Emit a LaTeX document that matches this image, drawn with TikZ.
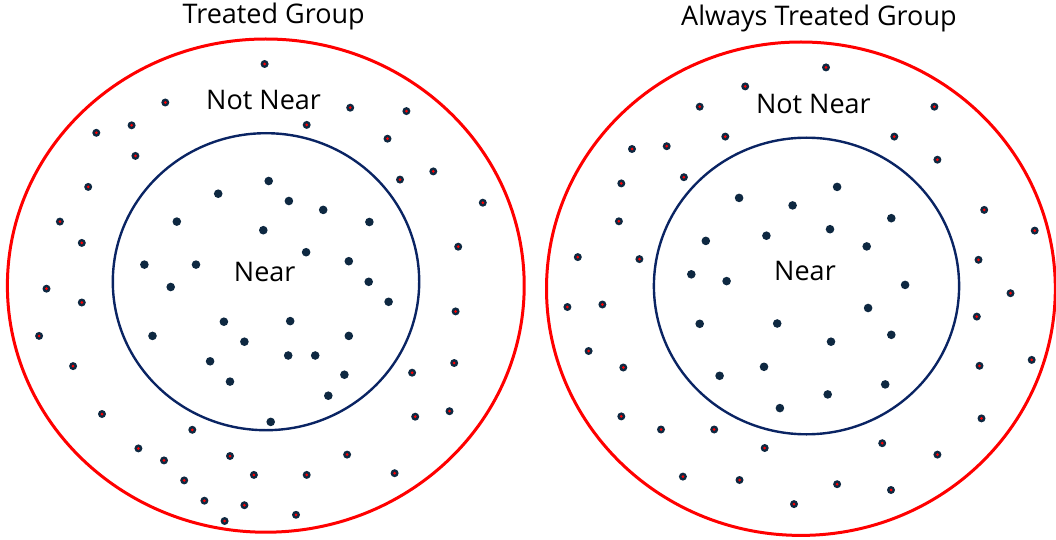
\documentclass[tikz,border=0pt]{standalone}
\usepackage{fontspec}
\setmainfont{Open Sans}
\definecolor{ringred}{HTML}{FF0000}
\definecolor{ringblue}{HTML}{0A2463}
\definecolor{dotnavy}{HTML}{0E2841}
\definecolor{dotred}{HTML}{FF0000}
\tikzset{
  outerring/.style={draw=ringred, line width=3pt},
  innerring/.style={draw=ringblue, line width=2.4pt},
  label/.style={inner sep=0pt, font=\fontsize{27}{32}\selectfont, text=black},
}
\newcommand{\outerdots}[1]{%
  \foreach \px/\py in {#1}{%
    \fill[dotnavy] (\px,\py) circle (4.0);
    \fill[dotred] (\px,\py) circle (1.5);
  }}
\newcommand{\innerdots}[1]{%
  \foreach \px/\py in {#1}{%
    \fill[dotnavy] (\px,\py) circle (4.3);
  }}
\begin{document}
\begin{tikzpicture}[x=1pt, y=-1pt]
\useasboundingbox (0,0) rectangle (1056,540);
% ---------------- Left group ----------------
\draw[outerring] (265.8,285.6) ellipse (258.4 and 246.6);
\draw[innerring] (266,281.7) ellipse (153.2 and 148.5);
\node[label] (titleL) at (273.7,16) {Treated Group};
\node[label] (notnearL) at (263.6,99.6) {Not Near};
\node[label] (nearL) at (264.7,271.8) {Near};
\outerdots{264.6/64.0, 165.3/102.5, 350.2/107.7, 406.4/111.1, 131.6/125.3, 96.3/132.8,
  306.7/124.9, 387.5/138.7, 135.4/155.9, 400.0/179.6, 433.3/171.4, 88.2/186.9,
  482.8/202.7, 59.9/221.6, 81.8/242.9, 458.2/246.7, 46.5/288.7, 81.8/302.5,
  455.6/311.4, 39.1/335.9, 73.1/366.1, 454.2/363.0, 412.1/372.7, 102.0/414.0,
  415.2/416.7, 449.5/411.2, 192.3/429.8, 138.4/448.4, 164.0/460.4, 230.0/456.0,
  347.1/454.6, 184.2/480.4, 253.9/474.9, 306.7/474.9, 394.6/473.2, 204.4/500.7,
  244.4/505.2, 224.6/521.0, 296.0/514.8}
\innerdots{268.7/181.0, 218.2/193.7, 288.9/201.0, 323.2/209.9, 176.8/221.6, 369.4/222.0,
  263.3/230.2, 306.1/252.2, 144.4/264.6, 196.0/264.6, 348.8/261.2, 170.7/287.0,
  368.7/281.8, 388.6/301.8, 223.9/321.7, 290.2/321.1, 152.5/335.9, 348.8/335.9,
  244.4/341.7, 288.2/355.5, 315.2/355.5, 210.1/361.3, 344.4/374.7, 230.0/381.6,
  328.3/395.7, 270.7/421.9}
% ---------------- Right group ----------------
\draw[outerring] (800.9,288.7) ellipse (254.4 and 246.7);
\draw[innerring] (806.5,286) ellipse (152.6 and 148.3);
\node[label] (titleR) at (818.9,18.5) {Always Treated Group};
\node[label] (notnearR) at (813.4,103.6) {Not Near};
\node[label] (nearR) at (805,270.6) {Near};
\outerdots{826.0/67.4, 745.2/86.4, 699.7/106.7, 934.4/106.7, 725.3/136.6, 894.3/136.6,
  632.0/149.0, 666.7/146.2, 937.4/159.7, 621.3/183.4, 683.9/177.2, 618.9/221.3,
  984.2/209.9, 1034.7/230.6, 577.8/257.1, 639.4/259.1, 978.5/259.8, 567.4/307.0,
  602.4/304.5, 1010.5/293.2, 976.8/316.6, 588.6/351.0, 623.3/367.5, 979.5/365.8,
  1031.7/359.9, 621.3/416.4, 661.0/429.5, 714.2/429.5, 981.5/418.4, 764.7/448.0,
  882.2/443.2, 937.4/454.6, 682.9/476.6, 739.5/480.0, 837.1/484.2, 891.0/490.0,
  794.0/504.1}
\innerdots{837.1/186.9, 739.1/197.9, 792.6/205.4, 891.3/218.2, 830.0/229.2, 766.4/235.7,
  705.8/240.9, 866.7/246.4, 691.3/274.3, 726.6/281.1, 905.1/284.9, 868.1/308.0,
  699.7/323.8, 777.2/323.5, 891.3/334.8, 831.0/341.7, 764.0/366.8, 719.6/375.8,
  885.2/384.4, 827.7/394.4, 779.9/408.1}
\end{tikzpicture}
\end{document}
